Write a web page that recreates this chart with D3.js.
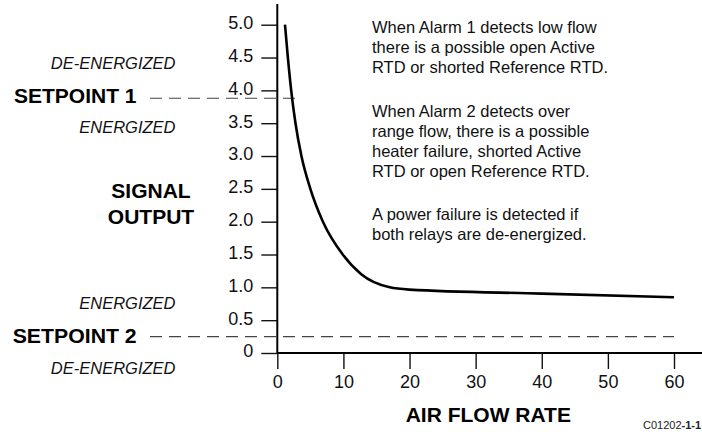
<!DOCTYPE html>
<html>
<head>
<meta charset="utf-8">
<script src="https://cdn.jsdelivr.net/npm/d3@7"></script>
<style>
  html, body { margin: 0; padding: 0; background: #fff; }
  svg { display: block; font-family: Arial, "Liberation Sans", Helvetica, sans-serif; }
</style>
</head>
<body>
<svg id="chart" width="702" height="432"></svg>
<script>
// ---- data ----
const flowRate = [1.16, 1.6, 2.1, 2.75, 3.65, 5.0, 6.9, 9.9, 12.7, 17, 20, 40, 60];
const signalOutput = [5.0, 4.5, 4.0, 3.5, 3.0, 2.5, 2.0, 1.5, 1.2, 1.0, 0.965, 0.905, 0.85];
const xTicks = [0, 10, 20, 30, 40, 50, 60];
const yTicks = [0, 0.5, 1.0, 1.5, 2.0, 2.5, 3.0, 3.5, 4.0, 4.5, 5.0];
const setpoint1 = 3.88;
const setpoint2 = 0.25;
const xTitle = "AIR FLOW RATE";
const yTitle = ["SIGNAL", "OUTPUT"];
const notes = [
  ["When Alarm 1 detects low flow", "there is a possible open Active", "RTD or shorted Reference RTD."],
  ["When Alarm 2 detects over", "range flow, there is a possible", "heater failure, shorted Active", "RTD or open Reference RTD."],
  ["A power failure is detected if", "both relays are de-energized."]
];

const svg = d3.select("#chart");
const x = d3.scaleLinear().domain([0, 60]).range([277.3, 674]);
const y = d3.scaleLinear().domain([0, 5]).range([353, 24.7]);

// setpoint dashed lines
svg.append("line")
  .attr("x1", 150).attr("x2", 302)
  .attr("y1", y(setpoint1)).attr("y2", y(setpoint1))
  .attr("stroke", "#444").attr("stroke-width", 1.1).attr("stroke-dasharray", "12,7");
svg.append("line")
  .attr("x1", 150).attr("x2", x(60))
  .attr("y1", y(setpoint2)).attr("y2", y(setpoint2))
  .attr("stroke", "#444").attr("stroke-width", 1.1).attr("stroke-dasharray", "12,7");

// y axis
const yAxis = d3.axisLeft(y).tickValues(yTicks).tickSize(16).tickPadding(8)
  .tickFormat(d => d === 0 ? "0" : d3.format(".1f")(d));
const gy = svg.append("g").attr("transform", `translate(${x(0)},0)`).call(yAxis);
gy.select(".domain").remove();
gy.selectAll(".tick line").attr("stroke", "#111").attr("stroke-width", 1.4);
gy.selectAll(".tick text").attr("font-size", 18).attr("fill", "#111").attr("dy", "0.22em");

// x axis
const xAxis = d3.axisBottom(x).tickValues(xTicks).tickSize(16).tickPadding(6);
const gx = svg.append("g").attr("transform", `translate(0,${y(0)})`).call(xAxis);
gx.select(".domain").remove();
gx.selectAll(".tick line").attr("stroke", "#111").attr("stroke-width", 1.4);
gx.selectAll(".tick text").attr("font-size", 18).attr("fill", "#111");

// axis lines
svg.append("line").attr("x1", x(0)).attr("x2", x(0)).attr("y1", 4).attr("y2", y(0))
  .attr("stroke", "#000").attr("stroke-width", 2);
svg.append("line").attr("x1", x(0)).attr("x2", 702).attr("y1", y(0)).attr("y2", y(0))
  .attr("stroke", "#000").attr("stroke-width", 2);

// curve
const line = d3.line().x((d, i) => x(flowRate[i])).y(d => y(d)).curve(d3.curveMonotoneX);
svg.append("path").datum(signalOutput)
  .attr("d", line).attr("fill", "none").attr("stroke", "#000").attr("stroke-width", 2.6)
  .attr("stroke-linejoin", "round");

// labels
function label(txt, xPos, yPos, opts) {
  const t = svg.append("text").attr("x", xPos).attr("y", yPos).text(txt)
    .attr("fill", "#000").attr("font-size", opts.size);
  if (opts.weight) t.attr("font-weight", opts.weight);
  if (opts.style) t.attr("font-style", opts.style);
  if (opts.anchor) t.attr("text-anchor", opts.anchor);
  if (opts.len) t.attr("textLength", opts.len).attr("lengthAdjust", "spacingAndGlyphs");
  return t;
}
label("DE-ENERGIZED", 175.5, 69.3, {size: 16.5, style: "italic", anchor: "end"}).attr("fill", "#111");
label("SETPOINT 1", 14, 103.3, {size: 21, weight: "bold", len: 122.5});
label("ENERGIZED", 175.5, 133.3, {size: 16.5, style: "italic", anchor: "end"}).attr("fill", "#111");
label(yTitle[0], 151, 198.3, {size: 21, weight: "bold", anchor: "middle"});
label(yTitle[1], 151, 224, {size: 21, weight: "bold", anchor: "middle"});
label("ENERGIZED", 175.5, 309, {size: 16.5, style: "italic", anchor: "end"}).attr("fill", "#111");
label("SETPOINT 2", 12.7, 342.7, {size: 21, weight: "bold", len: 124});
label("DE-ENERGIZED", 175.5, 374, {size: 16.5, style: "italic", anchor: "end"}).attr("fill", "#111");

// x title
label(xTitle, 488.3, 422, {size: 21, weight: "bold", anchor: "middle"});

// notes
const noteStarts = [33, 116.5, 219.5];
notes.forEach((para, p) => {
  para.forEach((ln, i) => {
    label(ln, 372, noteStarts[p] + i * 20, {size: 16.5}).attr("fill", "#111");
  });
});

// figure code
const code = svg.append("text").attr("x", 643).attr("y", 428.5).attr("font-size", 11).attr("fill", "#222");
code.append("tspan").text("C01202");
code.append("tspan").attr("font-weight", "bold").text("-1-1");
</script>
</body>
</html>
